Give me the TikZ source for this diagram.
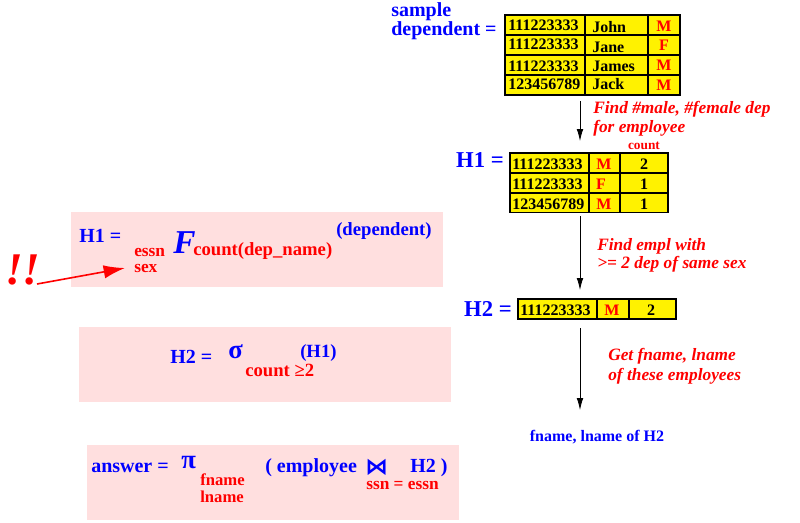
\documentclass[tikz,border=0pt]{standalone}
\usepackage{fontspec}
\setmainfont{Liberation Serif}
\newfontfamily\djv{DejaVu Sans}
\begin{document}
\begin{tikzpicture}[x=0.75pt,y=-0.75pt,
  cell/.style={draw=black,fill=yellow,line width=0.8pt},
  tt/.style={font=\bfseries\fontsize{12}{12}\selectfont,inner sep=0pt},
  bl/.style={font=\bfseries\fontsize{15}{15}\selectfont,text=blue,inner sep=0pt},
  rd/.style={font=\bfseries\fontsize{12}{12}\selectfont,text=red,inner sep=0pt},
  note/.style={font=\bfseries\itshape\fontsize{13}{14}\selectfont,text=red,inner sep=0pt,align=left,anchor=north west},
  pinkbox/.style={fill=pink!50!white,draw=none},
  flow/.style={-{Latex[length=9pt,width=5pt]},line width=0.6pt}]
\usetikzlibrary{arrows.meta}
\useasboundingbox (0,0) rectangle (800,522);
% dependent table
\foreach \y in {15,35,55,75}{
  \draw[cell] (505,\y) rectangle (585,\y+20);
  \draw[cell] (585,\y) rectangle (648,\y+20);
  \draw[cell] (648,\y) rectangle (680,\y+20);}
\node[tt,anchor=west] (d1) at (508,25) {111223333};
\node[tt,anchor=west] (d2) at (508,44) {111223333};
\node[tt,anchor=west] (d3) at (508,66) {111223333};
\node[tt,anchor=west] (d4) at (508,84) {123456789};
\node[tt,anchor=west] (n1) at (592,27) {John};
\node[tt,anchor=west] (n2) at (592,47) {Jane};
\node[tt,anchor=west] (n3) at (592,66) {James};
\node[tt,anchor=west] (n4) at (592,84) {Jack};
\node[tt,text=red] (s1) at (664,26) {M};
\node[tt,text=red] (s2) at (664,45) {F};
\node[tt,text=red] (s3) at (664,65) {M};
\node[tt,text=red] (s4) at (664,85) {M};
\node[bl,align=left,anchor=north west,font=\bfseries\fontsize{15}{10}\selectfont] (dl) at (391,2) {sample\\dependent =};
% H1 table
\foreach \y in {153,173,193}{
  \draw[cell] (510,\y) rectangle (589,\y+19.7);
  \draw[cell] (589,\y) rectangle (620,\y+19.7);
  \draw[cell] (620,\y) rectangle (668,\y+19.7);}
\node[rd,font=\bfseries\fontsize{10}{10}\selectfont] (cnt) at (644,146) {count};
\node[bl,font=\bfseries\fontsize{17}{17}\selectfont] (h1l) at (480,160) {H1 =};
\node[tt,anchor=west] (a1) at (512,164) {111223333};
\node[tt,anchor=west] (a2) at (512,184) {111223333};
\node[tt,anchor=west] (a3) at (512,204) {123456789};
\node[tt,text=red] (b1) at (604,164) {M};
\node[tt,text=red] (b2) at (601,184) {F};
\node[tt,text=red] (b3) at (604,204) {M};
\node[tt] (c1) at (644,164) {2};
\node[tt] (c2) at (644,184) {1};
\node[tt] (c3) at (644,204) {1};
% H2 table
\draw[cell] (518,299) rectangle (597,319);
\draw[cell] (597,299) rectangle (629,319);
\draw[cell] (629,299) rectangle (676,319);
\node[bl,font=\bfseries\fontsize{17}{17}\selectfont] (h2l) at (488,309) {H2 =};
\node[tt,anchor=west] (e1) at (520,310) {111223333};
\node[tt,text=red] (f1) at (612,310) {M};
\node[tt] (g1) at (651,310) {2};
% flow arrows
\coordinate (t1) at (580,101); \coordinate (u1) at (580,141);
\coordinate (t2) at (580,216); \coordinate (u2) at (580,290);
\coordinate (t3) at (580,328); \coordinate (u3) at (580,410);
\draw[flow] (t1) -- (u1);
\draw[flow] (t2) -- (u2);
\draw[flow] (t3) -- (u3);
\node[note] (m1) at (593,101) {Find \#male, \#female dep\\for employee};
\node[note] (m2) at (597,238) {Find empl with\\>= 2 dep of same sex};
\node[note] (m3) at (608,348) {Get fname, lname\\[1pt]of these employees};
\node[bl,font=\bfseries\fontsize{12}{12}\selectfont] (fin) at (597,437) {fname, lname of H2};
% pink boxes
\fill[pinkbox] (71,212) rectangle (443,287);
\fill[pinkbox] (79,327) rectangle (451,402);
\fill[pinkbox] (87,445) rectangle (459,520);
\node[bl,anchor=west] (q1) at (79,236) {H1 =};
\node[rd,anchor=west,font=\bfseries\fontsize{13}{13}\selectfont] (es) at (134,252) {essn};
\node[rd,anchor=west,font=\bfseries\fontsize{13}{13}\selectfont] (sx) at (134,268) {sex};
\node[bl,anchor=west,font=\bfseries\itshape\fontsize{25}{25}\selectfont] (ff) at (173,243) {F};
\node[rd,anchor=west,font=\bfseries\fontsize{14}{14}\selectfont] (cd) at (193,251) {count(dep\_name)};
\node[bl,anchor=west,font=\bfseries\fontsize{14}{14}\selectfont] (dp) at (336,231) {(dependent)};
\node[text=red,font=\bfseries\itshape\fontsize{34}{34}\selectfont,inner sep=0pt] (ex) at (23,270) {!!};
\coordinate (ex0) at (37,284);
\draw[red,line width=1.2pt,-{Latex[length=16pt,width=10pt]}] (ex0) -- (125,268);
\node[bl,anchor=west] (q2) at (170,357) {H2 =};
\node[bl,anchor=west,font=\bfseries\fontsize{20}{20}\selectfont] (sg) at (228,352) {σ};
\node[rd,anchor=west,font=\bfseries\fontsize{14}{14}\selectfont] (cg) at (245,370) {count ≥2};
\node[bl,anchor=west,font=\bfseries\fontsize{14}{14}\selectfont] (hh) at (300,353) {(H1)};
\node[bl,anchor=west] (q3) at (91,468) {answer =};
\node[bl,anchor=west,font=\bfseries\fontsize{20}{20}\selectfont] (pi) at (181,463) {π};
\node[rd,anchor=west,font=\bfseries\fontsize{12.5}{12.5}\selectfont] (fn) at (200,480) {fname};
\node[rd,anchor=west,font=\bfseries\fontsize{12.5}{12.5}\selectfont] (ln) at (200,497) {lname};
\node[bl,anchor=west] (emp) at (265,468) {( employee};
\node[bl,anchor=west,font=\djv\bfseries\fontsize{17}{17}\selectfont] (bt) at (365,467) {⋈};
\node[bl,anchor=west] (h2r) at (410,468) {H2 )};
\node[rd,anchor=west,font=\bfseries\fontsize{13}{13}\selectfont] (sn) at (366,485) {ssn = essn};
\end{tikzpicture}
\end{document}
